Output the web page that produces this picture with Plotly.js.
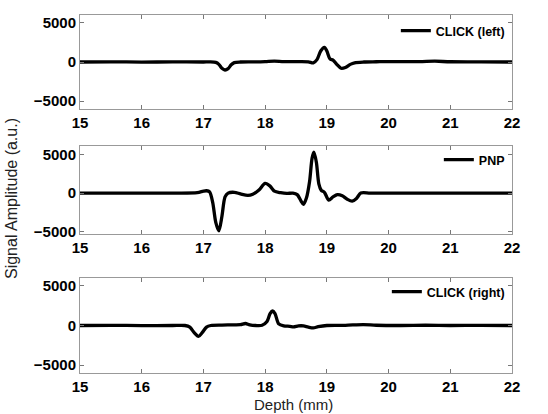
<!DOCTYPE html>
<html>
<head>
<meta charset="utf-8">
<script src="https://cdn.plot.ly/plotly-3.0.1.min.js"></script>
<style>html,body{margin:0;padding:0;background:#fff;}#chart{width:548px;height:414px;}</style>
</head>
<body>
<div id="chart"></div>
<script>
// Panel 1: CLICK (left)
var depthLeft = [15, 15.5, 16, 16.5, 17, 17.1, 17.2, 17.25, 17.3, 17.35, 17.4, 17.45, 17.5, 17.6, 17.8, 18.0, 18.15, 18.3, 18.5, 18.7, 18.78, 18.84, 18.9, 18.96, 19.0, 19.05, 19.1, 19.16, 19.23, 19.3, 19.38, 19.45, 19.6, 19.8, 20.0, 20.5, 20.75, 21.0, 21.5, 22];
var ampLeft   = [0, 20, -10, 10, 0, 10, -50, -300, -800, -1020, -850, -350, -80, 0, 20, 60, 120, 40, 50, 30, -120, 300, 1400, 1880, 1400, 400, 250, -300, -800, -700, -300, -100, 0, 30, 60, 50, 100, 30, 20, 0];

// Panel 2: PNP
var depthPNP = [15, 16, 16.5, 16.9, 17.0, 17.05, 17.1, 17.15, 17.2, 17.25, 17.3, 17.35, 17.4, 17.5, 17.6, 17.72, 17.8, 17.9, 18.0, 18.08, 18.15, 18.25, 18.35, 18.45, 18.52, 18.58, 18.62, 18.67, 18.72, 18.76, 18.79, 18.83, 18.87, 18.91, 18.96, 19.03, 19.1, 19.17, 19.25, 19.33, 19.41, 19.48, 19.55, 19.7, 20, 21, 22];
var ampPNP   = [0, 0, 0, 50, 250, 300, 150, -1200, -3800, -4900, -3000, -500, 0, 100, -100, -300, -150, 400, 1250, 900, 250, 50, -50, 0, -200, -1000, -1450, -600, 1500, 4500, 5300, 4000, 1200, 350, 100, -900, -500, -200, -350, -800, -1050, -700, 0, 0, 0, 0, 0];

// Panel 3: CLICK (right)
var depthRight = [15, 15.5, 16, 16.5, 16.7, 16.78, 16.85, 16.92, 16.98, 17.05, 17.12, 17.3, 17.5, 17.6, 17.68, 17.75, 17.85, 17.95, 18.03, 18.08, 18.12, 18.16, 18.22, 18.3, 18.4, 18.46, 18.54, 18.62, 18.7, 18.78, 18.86, 19.0, 19.3, 19.59, 19.8, 20.2, 20.6, 21, 21.5, 22];
var ampRight   = [0, 20, -10, 0, 0, -200, -900, -1370, -900, -200, 0, 50, 80, 100, 250, 80, 0, 30, 500, 1500, 1840, 1500, 200, -50, -100, -170, -50, -50, -200, -300, -150, 0, 20, 120, 30, 0, 30, 0, 20, 0];

var seriesNames = ['CLICK (left)', 'PNP', 'CLICK (right)'];
var xTickVals = [15, 16, 17, 18, 19, 20, 21, 22];
var yTickVals = [-5000, 0, 5000];
var yTickText = ['\u22125000', '0', '5000'];

var lineStyle = {color: '#000', width: 3.3, shape: 'spline', smoothing: 0.8};
var traces = [
  {x: depthLeft, y: ampLeft, xaxis: 'x', yaxis: 'y', name: seriesNames[0], mode: 'lines', line: lineStyle, legend: 'legend'},
  {x: depthPNP, y: ampPNP, xaxis: 'x2', yaxis: 'y2', name: seriesNames[1], mode: 'lines', line: lineStyle, legend: 'legend2'},
  {x: depthRight, y: ampRight, xaxis: 'x3', yaxis: 'y3', name: seriesNames[2], mode: 'lines', line: lineStyle, legend: 'legend3'}
];

var tickFont = {family: 'Liberation Sans, Arial, sans-serif', size: 15, color: '#000', weight: 'bold'};
function xAx(anchor) {
  return {anchor: anchor, range: [15, 22], tickvals: xTickVals, ticks: 'inside', ticklen: 4, tickcolor: '#777',
    showline: true, linecolor: '#999', linewidth: 1, mirror: 'allticks', showgrid: false, zeroline: false,
    tickfont: tickFont, fixedrange: true};
}
function yAx(anchor, domain, range) {
  return {anchor: anchor, domain: domain, range: range, tickvals: yTickVals, ticktext: yTickText, ticks: 'inside', ticklen: 4,
    tickcolor: '#777', showline: true, linecolor: '#999', linewidth: 1, mirror: 'allticks', showgrid: false, zeroline: false,
    tickfont: tickFont, fixedrange: true};
}
var legFont = {family: 'Liberation Sans, Arial, sans-serif', size: 12.5, color: '#000', weight: 'bold'};
function leg(y) {
  return {x: 0.995, xanchor: 'right', y: y, yanchor: 'middle', bgcolor: 'rgba(0,0,0,0)', borderwidth: 0, font: legFont, itemwidth: 30};
}

var layout = {
  width: 548, height: 414,
  margin: {l: 80, r: 36, t: 15, b: 41},
  paper_bgcolor: '#fff', plot_bgcolor: '#fff',
  showlegend: true,
  xaxis: xAx('y'),
  yaxis: yAx('x', [0.7374, 1], [-6000, 6000]),
  xaxis2: xAx('y2'),
  yaxis2: yAx('x2', [0.3883, 0.6341], [-5300, 6100]),
  xaxis3: xAx('y3'),
  yaxis3: yAx('x3', [0, 0.2654], [-6000, 6000]),
  legend: leg((373 - 31) / 358),
  legend2: leg((373 - 160) / 358),
  legend3: leg((373 - 292) / 358),
  annotations: [
    {text: 'Signal Amplitude (a.u.)', xref: 'paper', yref: 'paper', x: (11 - 80) / 432, y: (373 - 199) / 358,
     xanchor: 'center', yanchor: 'middle', textangle: -90, showarrow: false,
     font: {family: 'Liberation Sans, Arial, sans-serif', size: 16, color: '#222'}},
    {text: 'Depth (mm)', xref: 'paper', yref: 'paper', x: (293 - 80) / 432, y: (373 - 404) / 358,
     xanchor: 'center', yanchor: 'middle', showarrow: false,
     font: {family: 'Liberation Sans, Arial, sans-serif', size: 15, color: '#222'}}
  ]
};
Plotly.newPlot('chart', traces, layout, {staticPlot: true, displayModeBar: false});
</script>
</body>
</html>
